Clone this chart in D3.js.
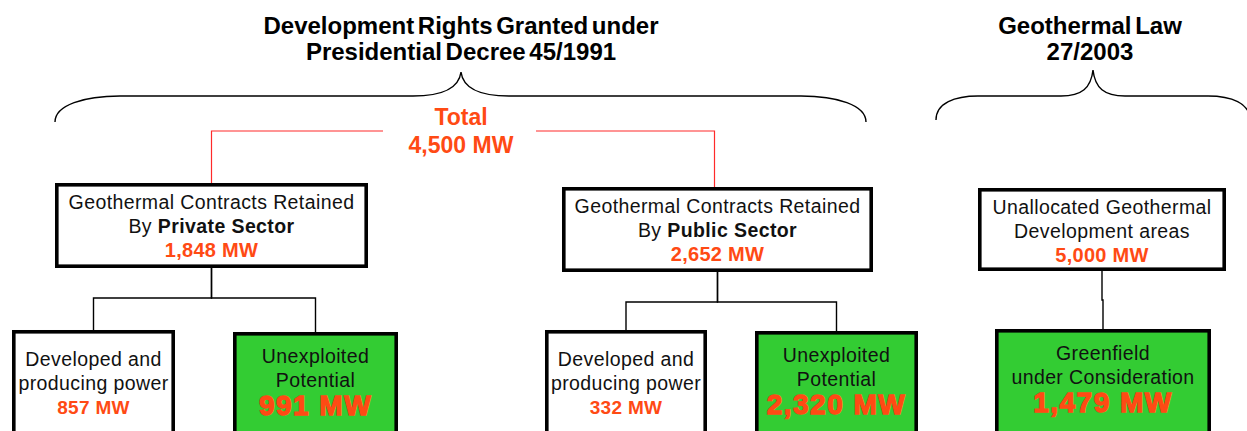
<!DOCTYPE html>
<html>
<head>
<meta charset="utf-8">
<script src="https://cdn.jsdelivr.net/npm/d3@7"></script>
<style>
  body { margin: 0; background: #fff; }
  svg { display: block; font-family: "Liberation Sans", Arial, sans-serif; }
</style>
</head>
<body>
<script>
// Group headings and the total
var groupTitles = [["Development Rights Granted under", "Presidential Decree 45/1991"], ["Geothermal Law", "27/2003"]];
var totalLabel = "Total";
var totalValue = 4500;

// Nodes of the diagram
var nodeIds = ["private", "public", "unallocated", "privDeveloped", "privUnexploited", "pubDeveloped", "pubUnexploited", "greenfield"];
var nodeLine1 = ["Geothermal Contracts Retained", "Geothermal Contracts Retained", "Unallocated Geothermal", "Developed and", "Unexploited", "Developed and", "Unexploited", "Greenfield"];
var nodeLine2 = ["By ", "By ", "Development areas", "producing power", "Potential", "producing power", "Potential", "under Consideration"];
var nodeBold = ["Private Sector", "Public Sector", "", "", "", "", "", ""];
var nodeValues = [1848, 2652, 5000, 857, 991, 332, 2320, 1479];
var nodeParent = [null, null, null, "private", "private", "public", "public", "unallocated"];
var nodeKind = ["parent", "parent", "parent", "developed", "unexploited", "developed", "unexploited", "unexploited"];

var width = 1247, height = 431;
var red = "#ff4a14", green = "#33cc33";
var fmt = v => d3.format(",")(v) + " MW";

// layout: outer box edges [x0, y0, x1, y1]
var layout = {
    private:         [55, 183, 368, 268],
    public:          [562, 187, 873, 272],
    unallocated:     [978, 188, 1226, 271],
    privDeveloped:   [12, 330, 175, 450],
    privUnexploited: [233, 332, 398, 450],
    pubDeveloped:    [545, 330, 707, 450],
    pubUnexploited:  [755, 331, 918, 450],
    greenfield:      [995, 329, 1211, 450]
};
var busY = {private: 298, public: 302};
var textOffsets = {parent: [26, 50, 74], developed: [36, 60, 84], unexploited: [31, 55, 83]};

var x = d3.scaleIdentity().domain([0, width]);
var y = d3.scaleIdentity().domain([0, height]);

var nodes = nodeIds.map((id, i) => ({
    id: id, line1: nodeLine1[i], line2: nodeLine2[i], bold: nodeBold[i],
    value: nodeValues[i], parent: nodeParent[i], kind: nodeKind[i], box: layout[id]
}));
var byId = {};
nodes.forEach(n => byId[n.id] = n);
var cx = n => x((n.box[0] + n.box[2]) / 2);

var svg = d3.select("body").append("svg")
    .attr("width", width)
    .attr("height", height);

// Headings
var titleX = [461, 1090];
groupTitles.forEach(function(lines, g) {
    svg.append("text")
        .attr("text-anchor", "middle")
        .attr("font-size", 24)
        .attr("font-weight", "bold")
        .attr("word-spacing", -3)
        .selectAll("tspan")
        .data(lines)
        .enter()
        .append("tspan")
        .attr("x", x(titleX[g]))
        .attr("y", (d, i) => y(34 + i * 26))
        .text(d => d);
});

// Braces under the headings
function brace(x0, xm, x1, yEnd, yTop, yPeak, endW, peakW) {
    var p = d3.path();
    p.moveTo(x0, yEnd);
    p.bezierCurveTo(x0, yEnd - 17, x0 + endW * 0.45, yTop, x0 + endW, yTop);
    p.lineTo(xm - peakW, yTop);
    p.bezierCurveTo(xm - peakW * 0.35, yTop, xm - 2, yTop - 8, xm, yPeak);
    p.bezierCurveTo(xm + 2, yTop - 8, xm + peakW * 0.35, yTop, xm + peakW, yTop);
    p.lineTo(x1 - endW, yTop);
    p.bezierCurveTo(x1 - endW * 0.45, yTop, x1, yEnd - 17, x1, yEnd);
    return p.toString();
}
svg.append("path")
    .attr("d", brace(x(55), x(461), x(866), y(122), y(96), y(72), 65, 48))
    .attr("fill", "none").attr("stroke", "#000").attr("stroke-width", 1.4);
svg.append("path")
    .attr("d", brace(x(936), x(1093), x(1250), y(120), y(96), y(70), 42, 32))
    .attr("fill", "none").attr("stroke", "#000").attr("stroke-width", 1.4);

// Total label and red connectors
svg.append("text")
    .attr("text-anchor", "middle")
    .attr("font-size", 23)
    .attr("font-weight", "bold")
    .attr("fill", red)
    .selectAll("tspan")
    .data([totalLabel, fmt(totalValue)])
    .enter()
    .append("tspan")
    .attr("x", x(461))
    .attr("y", (d, i) => y(125 + i * 28))
    .text(d => d);

var redLines = [
    [[x(383), y(131)], [cx(byId.private), y(131)], [cx(byId.private), y(byId.private.box[1])]],
    [[x(536), y(131)], [cx(byId.public) - 3, y(131)], [cx(byId.public) - 3, y(byId.public.box[1])]]
];
svg.selectAll(".redline")
    .data(redLines)
    .enter()
    .append("path")
    .attr("class", "redline")
    .attr("d", d3.line())
    .attr("fill", "none")
    .attr("stroke", "#ff2a2a")
    .attr("stroke-width", 1.2);

// Black connectors parent -> children
nodes.filter(n => n.parent).forEach(function(n) {
    var p = byId[n.parent];
    var px = cx(p), chx = cx(n);
    var by = busY[p.id] !== undefined ? y(busY[p.id]) : (y(p.box[3]) + y(n.box[1])) / 2;
    svg.append("path")
        .attr("d", d3.line()([[px, y(p.box[3])], [px, by], [chx, by], [chx, y(n.box[1])]]))
        .attr("fill", "none")
        .attr("stroke", "#000")
        .attr("stroke-width", 1.4);
});

// Boxes
var sw = 3.6;
var g = svg.selectAll(".node")
    .data(nodes)
    .enter()
    .append("g")
    .attr("class", "node");

g.append("rect")
    .attr("x", d => x(d.box[0]) + sw / 2)
    .attr("y", d => y(d.box[1]) + sw / 2)
    .attr("width", d => x(d.box[2]) - x(d.box[0]) - sw)
    .attr("height", d => y(d.box[3]) - y(d.box[1]) - sw)
    .attr("fill", d => d.kind === "unexploited" ? green : "#fff")
    .attr("stroke", "#000")
    .attr("stroke-width", sw);

g.append("text")
    .attr("text-anchor", "middle")
    .attr("font-size", 19.5)
    .attr("letter-spacing", 0.4)
    .attr("fill", "#111")
    .attr("x", d => cx(d))
    .attr("y", d => y(d.box[1] + textOffsets[d.kind][0]))
    .text(d => d.line1);

var l2 = g.append("text")
    .attr("text-anchor", "middle")
    .attr("font-size", 19.5)
    .attr("letter-spacing", 0.4)
    .attr("fill", "#111")
    .attr("x", d => cx(d))
    .attr("y", d => y(d.box[1] + textOffsets[d.kind][1]));
l2.append("tspan").text(d => d.line2);
l2.append("tspan")
    .attr("font-weight", "bold")
    .text(d => d.bold);

g.append("text")
    .attr("text-anchor", "middle")
    .attr("font-weight", "bold")
    .attr("fill", red)
    .attr("font-size", d => d.kind === "unexploited" ? 28 : (d.kind === "parent" ? 20 : 19))
    .attr("letter-spacing", d => d.kind === "unexploited" ? 1.5 : 0.3)
    .attr("stroke", d => d.kind === "unexploited" ? red : "none")
    .attr("stroke-width", d => d.kind === "unexploited" ? 1.3 : 0)
    .attr("x", d => cx(d))
    .attr("y", d => y(d.box[1] + textOffsets[d.kind][2]))
    .text(d => fmt(d.value));
</script>
</body>
</html>
